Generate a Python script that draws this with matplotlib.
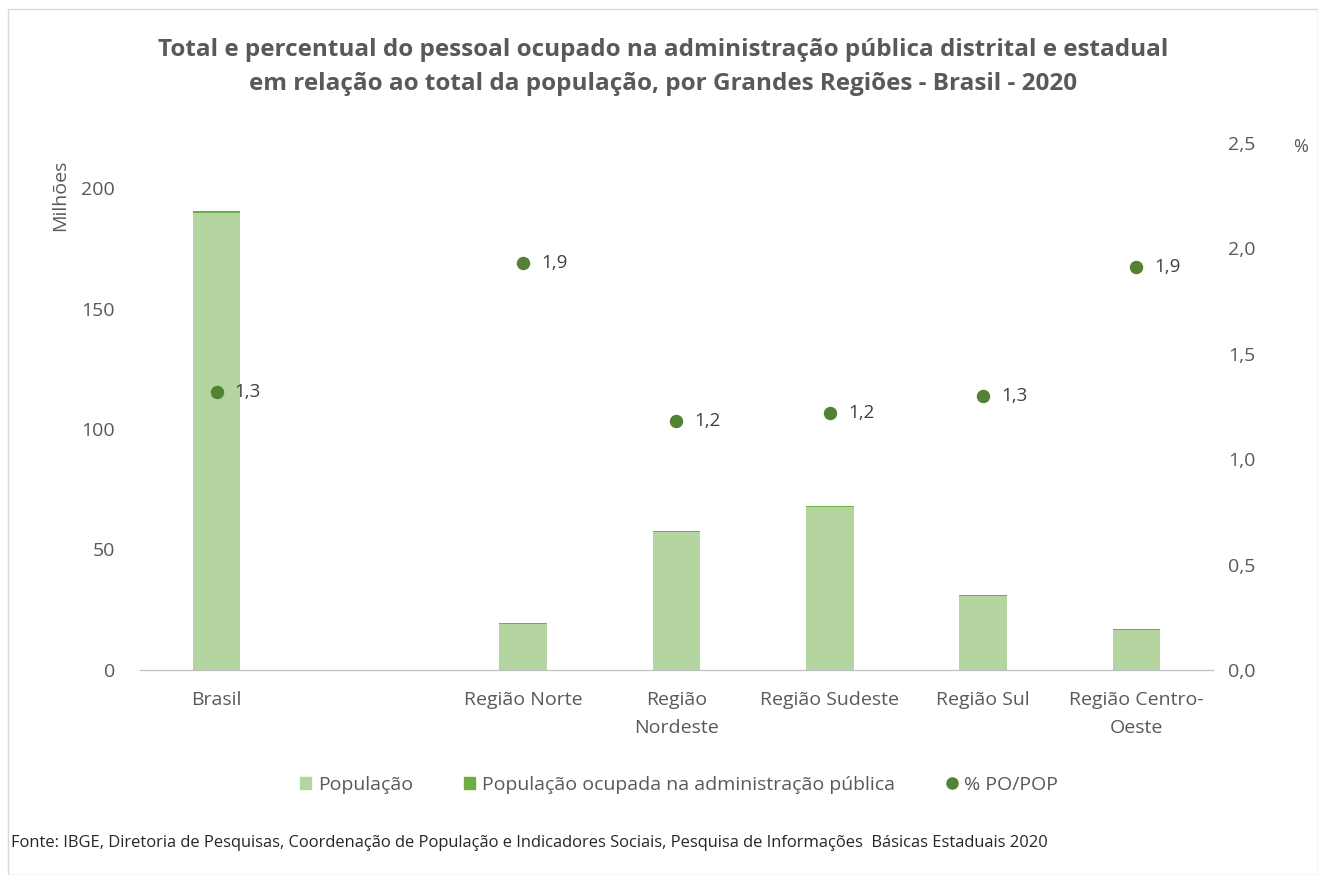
import matplotlib.pyplot as plt
from matplotlib.patches import Rectangle
from matplotlib.lines import Line2D
from matplotlib.patches import Patch

regioes = ['Brasil', '', 'Região Norte', 'Região\nNordeste', 'Região Sudeste', 'Região Sul', 'Região Centro-\nOeste']
populacao = [189.5, 0, 19.1, 57.2, 67.5, 30.7, 16.8]
pop_adm = [0.9, 0, 0.5, 0.6, 0.6, 0.5, 0.4]
pct = [1.32, None, 1.93, 1.18, 1.22, 1.30, 1.91]

cinza = '#595959'
verde_claro = '#B4D5A0'
verde = '#70AD47'
verde_escuro = '#548235'

plt.rcParams['font.family'] = ['Open Sans', 'DejaVu Sans']

fig = plt.figure(figsize=(13.18, 8.75), dpi=100)
fig.patches.append(Rectangle((0.006, 0.0), 0.994, 0.99, transform=fig.transFigure,
                             fill=False, edgecolor='#d9d9d9', lw=1))
ax = fig.add_axes([0.1062, 0.2343, 0.8141, 0.6023])
ax2 = ax.twinx()

x = list(range(len(regioes)))
ax.bar(x, populacao, width=0.31, color=verde_claro, zorder=2)
ax.bar(x, pop_adm, width=0.31, bottom=populacao, color=verde, zorder=2)

px = [i for i, v in zip(x, pct) if v is not None]
py = [v for v in pct if v is not None]
ax2.scatter(px, py, s=75, color=verde_escuro, zorder=3)
for xi, yi in zip(px, py):
    ax2.annotate(f'{yi:.1f}'.replace('.', ','), (xi, yi), xytext=(13, 0),
                 textcoords='offset points', va='center', ha='left',
                 fontsize=13.5, color='#404040')

ax.set_xlim(-0.5, len(regioes) - 0.5)
ax.set_ylim(0, 218.7)
ax.set_yticks([0, 50, 100, 150, 200])
ax2.set_ylim(0, 2.5)
ax2.set_yticks([0, 0.5, 1.0, 1.5, 2.0, 2.5])
ax2.set_yticklabels(['0,0', '0,5', '1,0', '1,5', '2,0', '2,5'])

ax.set_xticks(x)
ax.set_xticklabels(regioes, linespacing=1.75)

for a in (ax, ax2):
    for s in ('top', 'left', 'right'):
        a.spines[s].set_visible(False)
    a.spines['bottom'].set_color('#bfbfbf')
    a.tick_params(length=0, labelsize=14, colors=cinza)
ax.tick_params(axis='y', pad=18)
ax.tick_params(axis='x', pad=15)
ax2.tick_params(axis='y', pad=11)

fig.text(0.0455, 0.777, 'Milhões', rotation=90, ha='center', va='center',
         fontsize=14, color=cinza)
fig.text(0.987, 0.832, '%', ha='center', va='center', fontsize=13, color=cinza)

fig.text(0.503, 0.923, 'Total e percentual do pessoal ocupado na administração pública distrital e estadual\n'
         'em relação ao total da população, por Grandes Regiões - Brasil - 2020',
         ha='center', va='center', fontsize=17.5, fontweight='bold', color=cinza, linespacing=1.55)

handles = [Patch(color=verde_claro), Patch(color=verde),
           Line2D([], [], marker='o', ls='', color=verde_escuro, markersize=8)]
fig.legend(handles, ['População', 'População ocupada na administração pública', '% PO/POP'],
           loc='center', bbox_to_anchor=(0.515, 0.103), ncol=3, frameon=False,
           fontsize=14, handlelength=0.6, handleheight=0.6, handletextpad=0.35,
           columnspacing=2.6, labelcolor=cinza)

fig.text(0.008, 0.037, 'Fonte: IBGE, Diretoria de Pesquisas, Coordenação de População e Indicadores Sociais, '
         'Pesquisa de Informações  Básicas Estaduais 2020', fontsize=11.9, color='#262626',
         ha='left', va='center')

fig.savefig('out.png', dpi=100)
